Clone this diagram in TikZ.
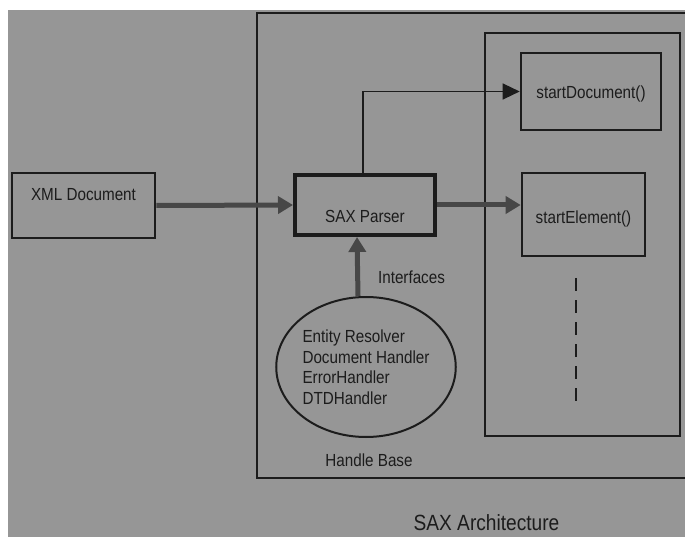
\documentclass[tikz,border=0pt]{standalone}
\usepackage{fontspec}
\setmainfont{Liberation Sans}[FakeStretch=0.87]
\usetikzlibrary{shapes.geometric, arrows.meta}
\definecolor{scangray}{RGB}{150,150,150}
\definecolor{ink}{RGB}{28,28,28}

\begin{document}
\begin{tikzpicture}[x=1pt,y=-1pt,
  font=\fontsize{17.5}{20.5}\selectfont,
  box/.style={draw=ink, line width=2.6pt, rectangle, inner sep=0pt, text=ink},
  fat/.style={line width=5pt, draw=black!72, -{Triangle[length=15pt,width=17pt,fill=black!72]}},
  thin/.style={line width=1.3pt, draw=ink, -{Triangle[length=17pt,width=16pt]}},
  lbl/.style={text=ink, inner sep=0pt}]
\useasboundingbox (0,0) rectangle (685,537);
\clip (0,0) rectangle (685,537);
\fill[scangray] (8,10) rectangle (690,540);
% frames
\draw[ink, line width=2.6pt] (690,13) -| (257,478) -- (690,478);
\draw[ink, line width=2.6pt] (485,33) rectangle (680,436);
% boxes
\node[box, minimum width=143pt, text height=28pt, text depth=37pt] (xml) at (83.5,205.5) {XML Document};
\node[box, line width=4pt, minimum width=140pt, text height=48pt, text depth=12pt] (sax) at (365,205) {SAX Parser};
\node[box, minimum width=140pt, text height=46pt, text depth=31pt] (startdoc) at (591,91.5) {startDocument()};
\node[box, minimum width=123pt, text height=51pt, text depth=32pt] (startel) at (583.5,214.5) {startElement()};
\node[draw=ink, line width=2pt, ellipse, minimum width=168pt, minimum height=140pt, inner sep=0pt, text=ink, align=left] (handlers) at (366,367)
  {Entity Resolver\\Document Handler\\ErrorHandler\\DTDHandler};
% labels
\node[lbl] (ifaces) at (411.5,277) {Interfaces};
\node[lbl] (base) at (369,460) {Handle Base};
\node[lbl, font=\fontsize{22}{26}\selectfont] (title) at (486.5,523) {SAX Architecture};
% connectors
\draw[fat] (xml.east) -- (sax.west);
\draw[fat] (sax.east) -- (sax.east -| startel.west);
\draw[fat] ([xshift=-8pt]handlers.north) -- ([xshift=-8pt]sax.south);
\draw[thin] ([xshift=-2pt]sax.north) |- (startdoc.west);
\draw[ink, line width=2.6pt, dash pattern=on 13pt off 9pt] (576,278) -- (576,407);
\end{tikzpicture}
\end{document}
